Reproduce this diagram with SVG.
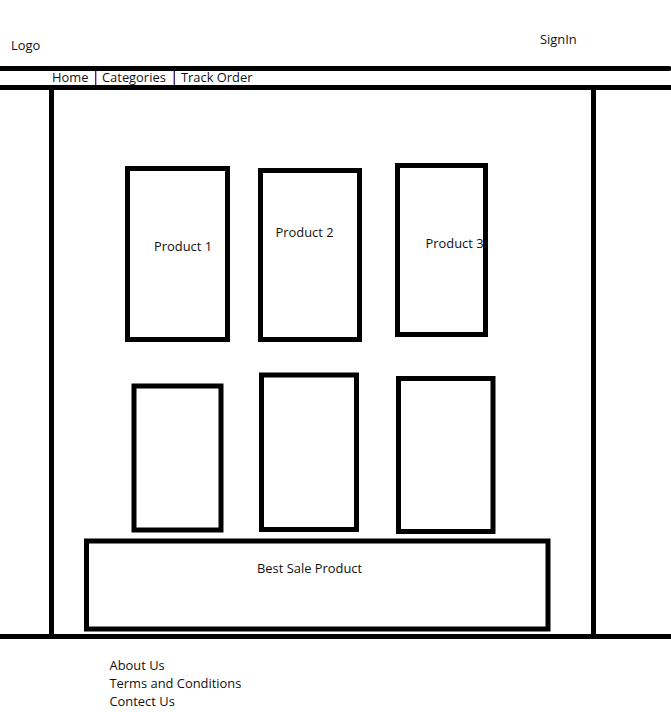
<svg xmlns="http://www.w3.org/2000/svg" width="671" height="712" viewBox="0 0 671 712">
<style>
  .ln { stroke: #000; stroke-width: 5; fill: none; }
  .box { stroke: #000; stroke-width: 5; fill: none; }
  .sep { stroke: #3a1a6a; stroke-width: 1.3; }
  text { font-family: "Open Sans", "Liberation Sans", sans-serif; font-size: 12.9px; fill: #111; }
</style>
<rect width="671" height="712" fill="#fff"/>
<g id="frame">
  <line class="ln" x1="0" y1="68.5" x2="669" y2="68.5" stroke-linecap="round"/>
  <line class="ln" x1="0" y1="87.5" x2="671" y2="87.5"/>
  <line class="ln" x1="51.5" y1="87.5" x2="51.5" y2="636.5"/>
  <line class="ln" x1="593.5" y1="87.5" x2="593.5" y2="636.5"/>
  <line class="ln" x1="0" y1="636.5" x2="671" y2="636.5"/>
</g>
<g id="header">
  <text x="11" y="50">Logo</text>
  <text x="540" y="44">SignIn</text>
</g>
<g id="nav">
  <text x="52" y="82">Home</text>
  <line class="sep" x1="95.7" y1="71" x2="95.7" y2="85"/>
  <text x="102" y="82">Categories</text>
  <line class="sep" x1="174.3" y1="71" x2="174.3" y2="85"/>
  <text x="181" y="82">Track Order</text>
</g>
<g id="product1">
  <rect class="box" x="127.5" y="168.5" width="100" height="171"/>
  <text x="154" y="251">Product 1</text>
</g>
<g id="product2">
  <rect class="box" x="260.5" y="170.5" width="99" height="169"/>
  <text x="275.5" y="237">Product 2</text>
</g>
<g id="product3">
  <rect class="box" x="397.5" y="165.5" width="88" height="169"/>
  <text x="425.5" y="248">Product 3</text>
</g>
<g id="product4">
  <rect class="box" x="134" y="386" width="87" height="144"/>
</g>
<g id="product5">
  <rect class="box" x="261.5" y="375" width="95" height="154.5"/>
</g>
<g id="product6">
  <rect class="box" x="398.5" y="378.5" width="94.5" height="153"/>
</g>
<g id="bestsale">
  <rect class="box" x="86.5" y="541" width="461.5" height="88"/>
  <text x="257" y="573">Best Sale Product</text>
</g>
<g id="footer">
  <text x="109.5" y="670">About Us</text>
  <text x="109.5" y="688">Terms and Conditions</text>
  <text x="109.5" y="706">Contect Us</text>
</g>
</svg>
